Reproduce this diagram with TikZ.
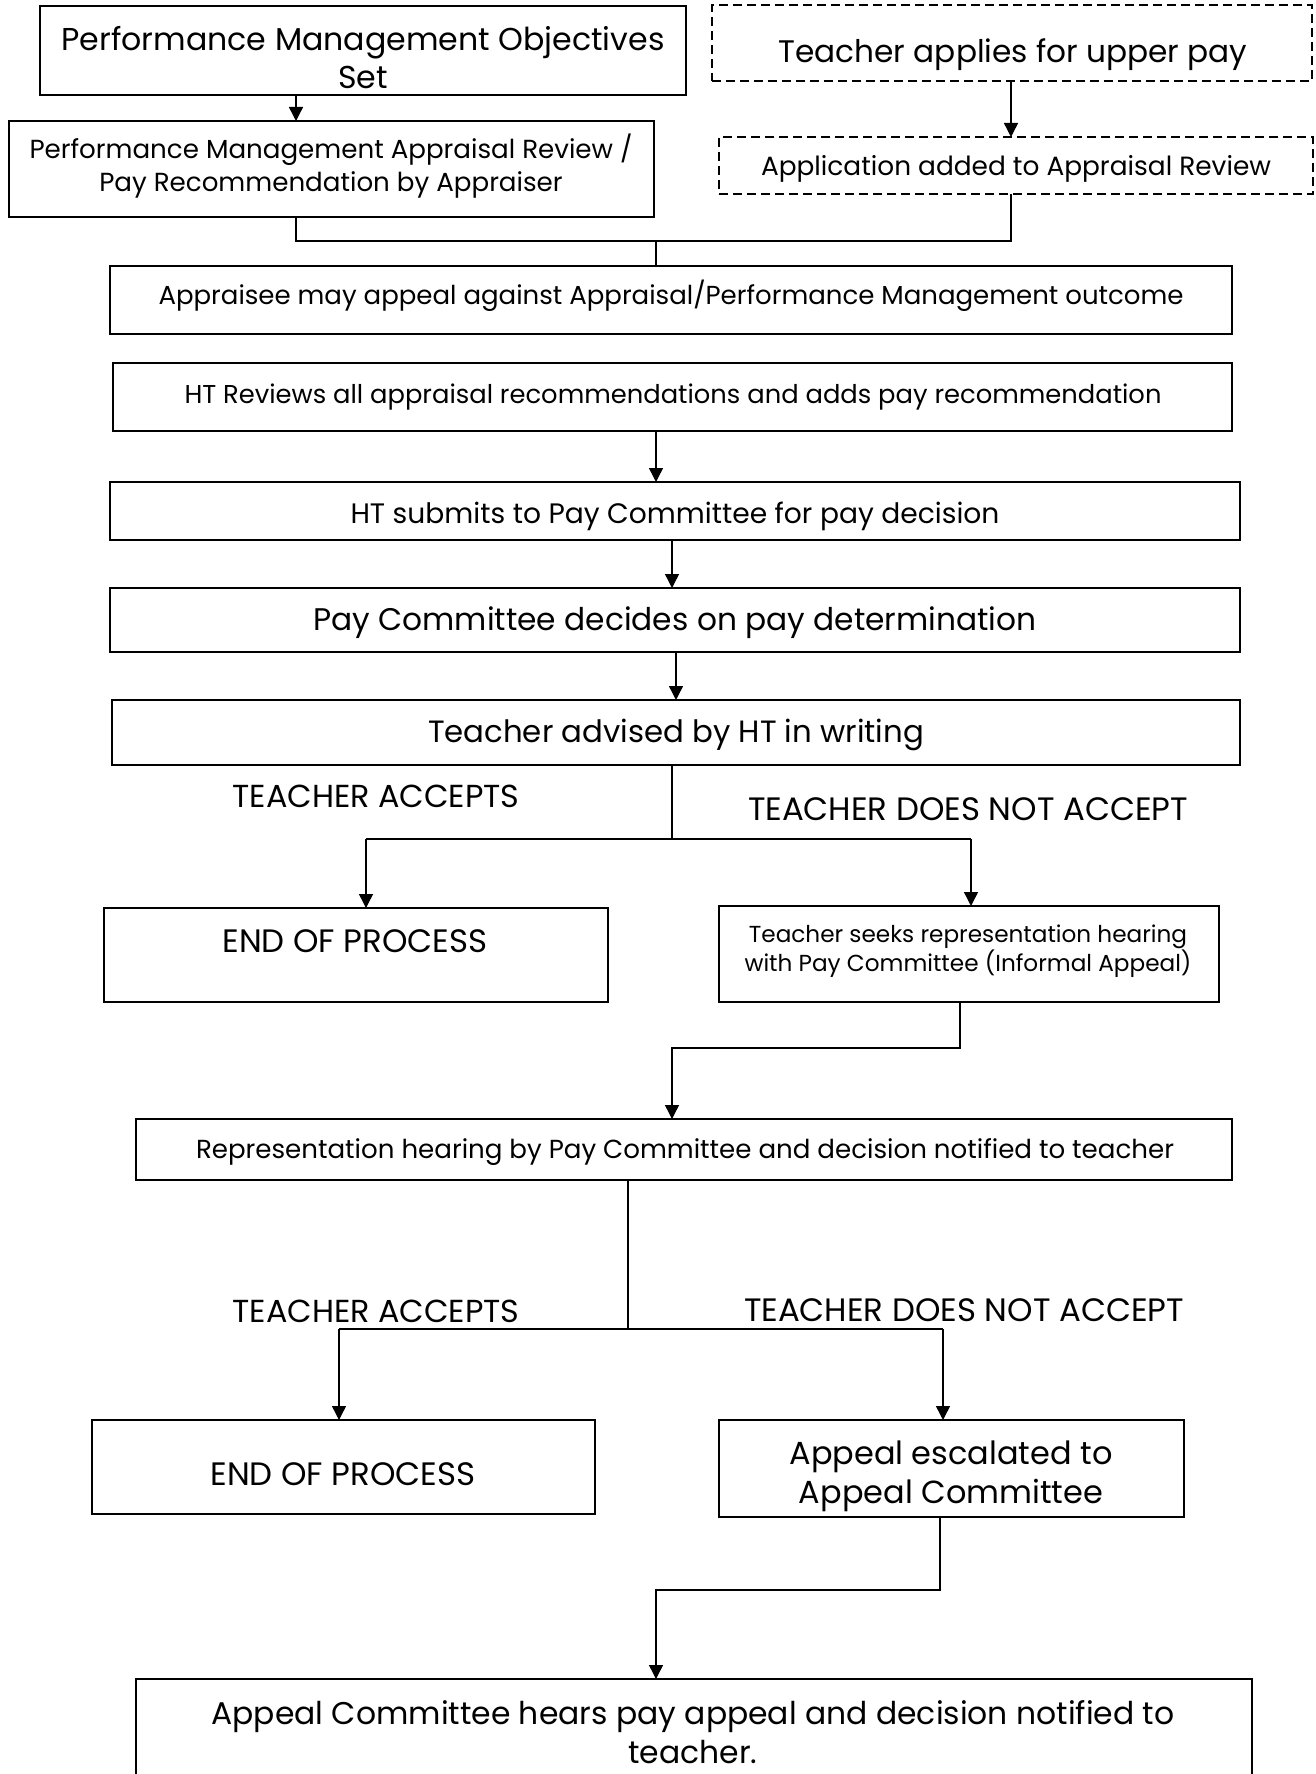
\documentclass[tikz,border=0pt]{standalone}
\usepackage{fontspec}
\setmainfont{Poppins}
\usetikzlibrary{arrows.meta}
\newlength\natw
% set a font size so that #2 is #1 pt wide, baselineskip #3 pt
\newcommand\fitfont[3]{%
  \settowidth\natw{\fontsize{10pt}{12pt}\selectfont #2}%
  \pgfmathsetmacro\fitfs{10*(#1/\natw)}%
  \fontsize{\fitfs pt}{#3pt}\selectfont}
\newcommand\mkbox[6][box]{%
  \node[#1, minimum width={(#4-#2)*1pt}, minimum height={(#5-#3)*1pt}] (#6) at ({(#2+#4)/2},{(#3+#5)/2}) {};}
\begin{document}
\begin{tikzpicture}[x=1pt,y=-1pt,
  box/.style={draw, line width=1.6pt, inner sep=0pt, outer sep=0pt},
  dbox/.style={box, line width=1.5pt, dash pattern=on 9pt off 5pt},
  txt/.style={inner sep=0pt, align=center},
  one/.style={txt, text height=0.75em, text depth=0.2em, yshift=-8pt},
  conn/.style={line width=1.4pt},
  arr/.style={conn, -{Triangle[length=14pt,width=14pt]}},
]
\useasboundingbox (0,0) rectangle (1315,1774);

% boxes
\mkbox{40}{6}{686}{95}{b1}
\mkbox{9}{121}{654}{217}{b2}
\mkbox[dbox]{712}{5}{1312}{81}{b3}
\mkbox[dbox]{719}{137}{1313}{194}{b4}
\mkbox{110}{266}{1232}{334}{b5}
\mkbox{113}{363}{1232}{431}{b6}
\mkbox{110}{482}{1240}{540}{b7}
\mkbox{110}{588}{1240}{652}{b8}
\mkbox{112}{700}{1240}{765}{b9}
\mkbox{104}{908}{608}{1002}{b10}
\mkbox{719}{906}{1219}{1002}{b11}
\mkbox{136}{1119}{1232}{1180}{b12}
\mkbox{92}{1420}{595}{1514}{b13}
\mkbox{719}{1420}{1184}{1517}{b14}
\mkbox{136}{1679}{1252}{1810}{b15}

% texts
\begin{scope}
\clip (41,7) rectangle (685,93);
\node[txt, font=\fitfont{603}{Performance Management Objectives}{38}] (t1) at (363,58) {Performance Management Objectives\\Set};
\end{scope}
\node[txt, font=\fitfont{603}{Performance Management Appraisal Review /}{33}] (t2) at (331,166) {Performance Management Appraisal Review /\\Pay Recommendation by Appraiser};
\node[one, font=\fitfont{469}{Teacher applies for upper pay}{20}] (t3) at (1013,52) {Teacher applies for upper pay};
\node[one, font=\fitfont{510}{Application added to Appraisal Review}{20}] (t4) at (1016,165) {Application added to Appraisal Review};
\node[one, font=\fitfont{1025}{Appraisee may appeal against Appraisal/Performance Management outcome}{20}] (t5) at (671,294) {Appraisee may appeal against Appraisal/Performance Management outcome};
\node[one, font=\fitfont{977}{HT Reviews all appraisal recommendations and adds pay recommendation}{20}] (t6) at (673,393) {HT Reviews all appraisal recommendations and adds pay recommendation};
\node[one, font=\fitfont{649}{HT submits to Pay Committee for pay decision}{20}] (t7) at (675,513) {HT submits to Pay Committee for pay decision};
\node[one, font=\fitfont{723}{Pay Committee decides on pay determination}{20}] (t8) at (675,620) {Pay Committee decides on pay determination};
\node[one, font=\fitfont{496}{Teacher advised by HT in writing}{20}] (t9) at (676,732) {Teacher advised by HT in writing};
\node[one, font=\fitfont{287}{TEACHER ACCEPTS}{20}] (la1) at (376,797) {TEACHER ACCEPTS};
\node[one, font=\fitfont{440}{TEACHER DOES NOT ACCEPT}{20}] (la2) at (968,810) {TEACHER DOES NOT ACCEPT};
\node[one, font=\fitfont{265}{END OF PROCESS}{20}] (t10) at (355,942) {END OF PROCESS};
\node[txt, font=\fitfont{447}{with Pay Committee (Informal Appeal)}{29}] (t11) at (968,951) {Teacher seeks representation hearing\\with Pay Committee (Informal Appeal)};
\node[one, font=\fitfont{978}{Representation hearing by Pay Committee and decision notified to teacher}{20}] (t12) at (685,1148) {Representation hearing by Pay Committee and decision notified to teacher};
\node[one, font=\fitfont{287}{TEACHER ACCEPTS}{20}] (la3) at (376,1312) {TEACHER ACCEPTS};
\node[one, font=\fitfont{440}{TEACHER DOES NOT ACCEPT}{20}] (la4) at (964,1311) {TEACHER DOES NOT ACCEPT};
\node[one, font=\fitfont{265}{END OF PROCESS}{20}] (t13) at (343,1475) {END OF PROCESS};
\node[txt, font=\fitfont{323}{Appeal escalated to}{39}] (t14) at (951,1476) {Appeal escalated to\\Appeal Committee};
\node[txt, font=\fitfont{963}{Appeal Committee hears pay appeal and decision notified to}{39}] (t15) at (693,1732) {Appeal Committee hears pay appeal and decision notified to\\teacher.};

% junction coordinates
\coordinate (j1) at (296,241);
\coordinate (j1r) at (1011,241);
\coordinate (j1m) at (656,241);
\coordinate (c672) at (672,0);
\coordinate (c676) at (676,0);
\coordinate (j2) at (672,839);
\coordinate (j2l) at (366,839);
\coordinate (j2r) at (971,839);
\coordinate (j3) at (960,1048);
\coordinate (j3l) at (672,1048);
\coordinate (j4) at (628,1329);
\coordinate (j4l) at (339,1329);
\coordinate (j4r) at (943,1329);
\coordinate (j5) at (940,1590);
\coordinate (j5l) at (656,1590);

% connectors
\draw[arr] (b1.south -| j1) -- (b2.north -| j1);
\draw[arr] (b3.south -| j1r) -- (b4.north -| j1r);
\draw[conn] (b2.south -| j1) -- (j1) -- (j1r) -- (b4.south -| j1r);
\draw[conn] (j1m) -- (b5.north -| j1m);
\draw[arr] (b6.south -| j1m) -- (b7.north -| j1m);
\draw[arr] (b7.south -| c672) -- (b8.north -| c672);
\draw[arr] (b8.south -| c676) -- (b9.north -| c676);
\draw[conn] (b9.south -| j2) -- (j2);
\draw[conn] (j2l) -- (j2r);
\draw[arr] (j2l) -- (b10.north -| j2l);
\draw[arr] (j2r) -- (b11.north -| j2r);
\draw[arr] (b11.south -| j3) -- (j3) -- (j3l) -- (b12.north -| j3l);
\draw[conn] (b12.south -| j4) -- (j4);
\draw[conn] (j4l) -- (j4r);
\draw[arr] (j4l) -- (b13.north -| j4l);
\draw[arr] (j4r) -- (b14.north -| j4r);
\draw[arr] (b14.south -| j5) -- (j5) -- (j5l) -- (b15.north -| j5l);
\end{tikzpicture}
\end{document}
